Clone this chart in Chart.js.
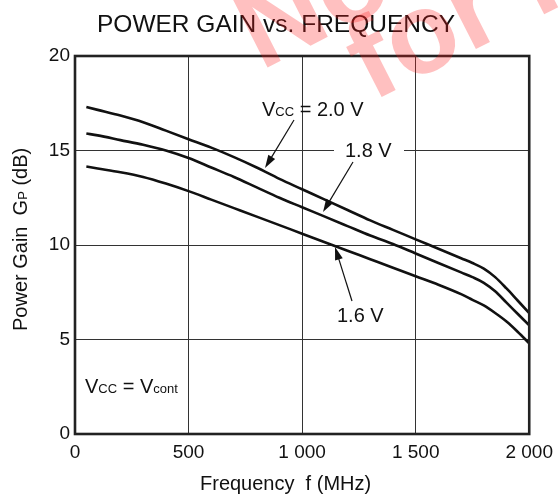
<!DOCTYPE html>
<html>
<head>
<meta charset="utf-8">
<script src="https://cdn.jsdelivr.net/npm/chart.js@4.4.1/dist/chart.umd.min.js"></script>
<style>
  html, body { margin: 0; padding: 0; background: #fff; }
  #c { display: block; }
</style>
</head>
<body>
<canvas id="c" width="560" height="497"></canvas>
<script>
'use strict';

// Power gain vs frequency
const freqMHz = [50, 100, 200, 300, 400, 500, 600, 700, 800, 900, 1000, 1100, 1200,
                 1300, 1400, 1500, 1600, 1700, 1750, 1800, 1850, 1900, 1950, 2000];
const gain20V = [17.3, 17.15, 16.85, 16.5, 16.05, 15.6, 15.15, 14.65, 14.1, 13.5, 12.95, 12.4, 11.85,
                 11.3, 10.8, 10.3, 9.8, 9.3, 9.05, 8.75, 8.3, 7.7, 7.05, 6.4];
const gain18V = [15.9, 15.8, 15.55, 15.3, 15.0, 14.6, 14.1, 13.6, 13.05, 12.5, 12.0, 11.5, 11.0,
                 10.5, 10.05, 9.55, 9.05, 8.55, 8.3, 8.0, 7.55, 6.95, 6.35, 5.75];
const gain16V = [14.15, 14.05, 13.85, 13.6, 13.25, 12.85, 12.4, 11.95, 11.5, 11.05, 10.6, 10.15, 9.7,
                 9.25, 8.8, 8.35, 7.9, 7.4, 7.1, 6.8, 6.4, 5.95, 5.4, 4.8];
const xTicks = [0, 500, 1000, 1500, 2000];
const yTicks = [0, 5, 10, 15, 20];

const FONT = '"Liberation Sans", Arial, Helvetica, sans-serif';
const INK = '#111';

function pts(ys) {
  return freqMHz.map((f, i) => ({ x: f, y: ys[i] }));
}

function fmtTick(v) {
  // "1 000" style thousands separator
  return String(v).replace(/\B(?=(\d{3})+(?!\d))/g, ' ');
}

function curve(label, ys) {
  return {
    label, data: pts(ys),
    borderColor: INK, borderWidth: 2.6, pointRadius: 0,
    cubicInterpolationMode: 'monotone', fill: false
  };
}

function arrow(ctx, x1, y1, x2, y2) {
  const a = Math.atan2(y2 - y1, x2 - x1);
  const len = 13, half = 4;
  ctx.save();
  ctx.strokeStyle = INK; ctx.fillStyle = INK; ctx.lineWidth = 1.2;
  ctx.beginPath();
  ctx.moveTo(x1, y1);
  ctx.lineTo(x2 - Math.cos(a) * len * 0.8, y2 - Math.sin(a) * len * 0.8);
  ctx.stroke();
  ctx.beginPath();
  ctx.moveTo(x2, y2);
  ctx.lineTo(x2 - Math.cos(a) * len - Math.sin(a) * half, y2 - Math.sin(a) * len + Math.cos(a) * half);
  ctx.lineTo(x2 - Math.cos(a) * len + Math.sin(a) * half, y2 - Math.sin(a) * len - Math.cos(a) * half);
  ctx.closePath();
  ctx.fill();
  ctx.restore();
}

// draws runs of [text, size] along one baseline
function runs(ctx, x, y, parts) {
  ctx.textAlign = 'left';
  ctx.textBaseline = 'alphabetic';
  parts.forEach(([t, size]) => {
    ctx.font = size + 'px ' + FONT;
    ctx.fillText(t, x, y);
    x += ctx.measureText(t).width;
  });
}

const decorations = {
  id: 'decorations',
  afterDatasetsDraw(chart) {
    const { ctx, chartArea: a } = chart;
    ctx.save();
    // frame
    ctx.strokeStyle = '#222';
    ctx.lineWidth = 2.6;
    ctx.strokeRect(a.left, a.top, a.right - a.left, a.bottom - a.top);

    ctx.fillStyle = INK;
    // title
    ctx.font = '24.5px ' + FONT;
    ctx.textAlign = 'center';
    ctx.textBaseline = 'alphabetic';
    ctx.fillText('POWER GAIN vs. FREQUENCY', 276, 32);

    // x axis title
    runs(ctx, 200, 490, [['Frequency  f (MHz)', 20]]);

    // y axis title
    ctx.save();
    ctx.translate(27, 331);
    ctx.rotate(-Math.PI / 2);
    runs(ctx, 0, 0, [['Power Gain  G', 20], ['P', 13], [' (dB)', 20]]);
    ctx.restore();

    // curve labels
    runs(ctx, 262, 116, [['V', 20], ['CC', 13], [' = 2.0 V', 20]]);
    arrow(ctx, 294, 120, 265, 168);

    ctx.fillStyle = '#fff';
    ctx.fillRect(334, 140, 70, 20);
    ctx.fillStyle = INK;
    runs(ctx, 345, 157, [['1.8 V', 20]]);
    arrow(ctx, 353, 162, 323, 212);

    runs(ctx, 337, 322, [['1.6 V', 20]]);
    arrow(ctx, 352, 301, 335, 247);

    runs(ctx, 85, 393, [['V', 20], ['CC', 13], [' = V', 20], ['cont', 13]]);
    ctx.restore();
  },
  afterDraw(chart) {
    // red "not for new design" style watermark
    const ctx = chart.ctx;
    ctx.save();
    ctx.fillStyle = 'rgba(255, 30, 30, 0.28)';
    ctx.font = 'bold 115px ' + FONT;
    ctx.textBaseline = 'alphabetic';
    ctx.textAlign = 'left';
    ctx.translate(372, 102);
    ctx.rotate(-27 * Math.PI / 180);
    ctx.fillText('for new design', 0, 0);
    ctx.fillText('Not recommended', -85, -78);
    ctx.restore();
  }
};

new Chart(document.getElementById('c'), {
  type: 'line',
  data: {
    datasets: [
      curve('VCC = 2.0 V', gain20V),
      curve('1.8 V', gain18V),
      curve('1.6 V', gain16V)
    ]
  },
  options: {
    responsive: false,
    animation: false,
    devicePixelRatio: 1,
    layout: { padding: { top: 56, right: 30, left: 0, bottom: 0 } },
    plugins: { legend: { display: false }, tooltip: { enabled: false }, title: { display: false } },
    scales: {
      x: {
        type: 'linear', min: 0, max: 2000,
        afterBuildTicks: s => { s.ticks = xTicks.map(v => ({ value: v })); },
        afterFit: s => { s.height = 63; },
        ticks: { color: INK, font: { family: FONT, size: 19 }, padding: 7, maxRotation: 0, callback: v => fmtTick(v) },
        grid: { color: '#333', lineWidth: 1, drawTicks: false },
        border: { display: false }
      },
      y: {
        min: 0, max: 20,
        afterBuildTicks: s => { s.ticks = yTicks.map(v => ({ value: v })); },
        afterFit: s => { s.width = 75; },
        ticks: { color: INK, font: { family: FONT, size: 19 }, padding: 5 },
        grid: { color: '#333', lineWidth: 1, drawTicks: false },
        border: { display: false }
      }
    }
  },
  plugins: [decorations]
});
</script>
</body>
</html>
